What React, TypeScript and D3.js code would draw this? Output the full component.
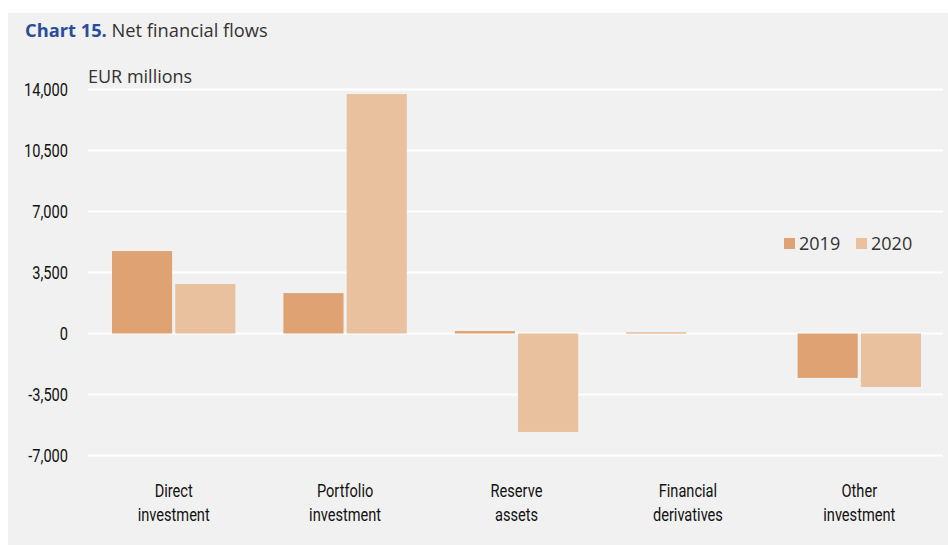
import * as d3 from 'd3';
import { useEffect, useRef } from 'react';

const categories = [
  ['Direct', 'investment'],
  ['Portfolio', 'investment'],
  ['Reserve', 'assets'],
  ['Financial', 'derivatives'],
  ['Other', 'investment'],
];
const seriesNames = ['2019', '2020'];
const values2019 = [4730, 2320, 140, 60, -2550];
const values2020 = [2840, 13740, -5650, 0, -3070];
const yTicks = [-7000, -3500, 0, 3500, 7000, 10500, 14000];
const colors = ['#dfa273', '#e9c19e'];

const W = 948;
const H = 545;
const narrow = 'Roboto, "Noto Sans", sans-serif';
const sans = '"Open Sans", "Noto Sans", sans-serif';
const squeeze = 0.79;

export default function App() {
  const ref = useRef<SVGSVGElement>(null);

  useEffect(() => {
    const svg = d3.select(ref.current);
    svg.selectAll('*').remove();

    svg.append('rect').attr('x', 8).attr('y', 13).attr('width', W - 8).attr('height', H - 13).attr('fill', '#f1f1f1');

    const left = 88;
    const right = 945;
    const x = d3.scaleBand<number>().domain(d3.range(categories.length)).range([left, right]).paddingInner(0.28).paddingOuter(0.14);
    const x1 = d3.scaleBand<number>().domain([0, 1]).range([0, x.bandwidth()]).paddingInner(0.05);
    const y = d3.scaleLinear().domain([-7000, 14000]).range([455.5, 89.5]);

    // grid
    svg.append('g')
      .selectAll('line')
      .data(yTicks)
      .join('line')
      .attr('x1', left)
      .attr('x2', 943)
      .attr('y1', (d) => y(d))
      .attr('y2', (d) => y(d))
      .attr('stroke', '#ffffff')
      .attr('stroke-width', 2);

    // tick labels (condensed look)
    svg.append('g')
      .selectAll('text')
      .data(yTicks)
      .join('text')
      .attr('transform', (d) => `translate(68,${y(d)}) scale(${squeeze},1)`)
      .attr('dy', '0.36em')
      .attr('text-anchor', 'end')
      .attr('font-family', narrow)
      .attr('font-size', 18.5)
      .attr('fill', '#111111')
      .text((d) => d3.format(',')(d).replace('−', '-'));

    // bars
    const series = [values2019, values2020];
    series.forEach((vals, si) => {
      svg.append('g')
        .selectAll('rect')
        .data(vals)
        .join('rect')
        .attr('x', (_, i) => (x(i) as number) + (x1(si) as number))
        .attr('width', x1.bandwidth())
        .attr('y', (d) => y(Math.max(0, d)))
        .attr('height', (d) => Math.abs(y(d) - y(0)))
        .attr('fill', colors[si]);
    });

    // category labels
    const cat = svg.append('g')
      .selectAll('text')
      .data(categories)
      .join('text')
      .attr('transform', (_, i) => `translate(${(x(i) as number) + x.bandwidth() / 2},497) scale(${squeeze},1)`)
      .attr('text-anchor', 'middle')
      .attr('font-family', narrow)
      .attr('font-size', 18.5)
      .attr('fill', '#111111');
    cat.each(function (d) {
      const t = d3.select(this);
      t.append('tspan').attr('x', 0).text(d[0]);
      t.append('tspan').attr('x', 0).attr('dy', 24).text(d[1]);
    });

    // title
    const title = svg.append('text').attr('x', 25).attr('y', 37).attr('font-family', sans).attr('font-size', 18.3);
    title.append('tspan').attr('font-weight', 'bold').attr('fill', '#2a4c9c').text('Chart 15.');
    title.append('tspan').attr('fill', '#333333').text(' Net financial flows');

    svg.append('text')
      .attr('x', 88)
      .attr('y', 83)
      .attr('font-family', sans)
      .attr('font-size', 18)
      .attr('fill', '#333333')
      .text('EUR millions');

    // legend
    const legendX = [784, 856];
    seriesNames.forEach((name, i) => {
      svg.append('rect').attr('x', legendX[i]).attr('y', 238).attr('width', 11).attr('height', 11).attr('fill', colors[i]);
      svg.append('text')
        .attr('x', legendX[i] + 15)
        .attr('y', 250)
        .attr('font-family', sans)
        .attr('font-size', 18)
        .attr('fill', '#333333')
        .text(name);
    });
  }, []);

  return (
    <svg
      ref={ref}
      width={W}
      height={H}
      style={{ position: 'absolute', left: 0, top: 0, background: '#ffffff' }}
    />
  );
}
